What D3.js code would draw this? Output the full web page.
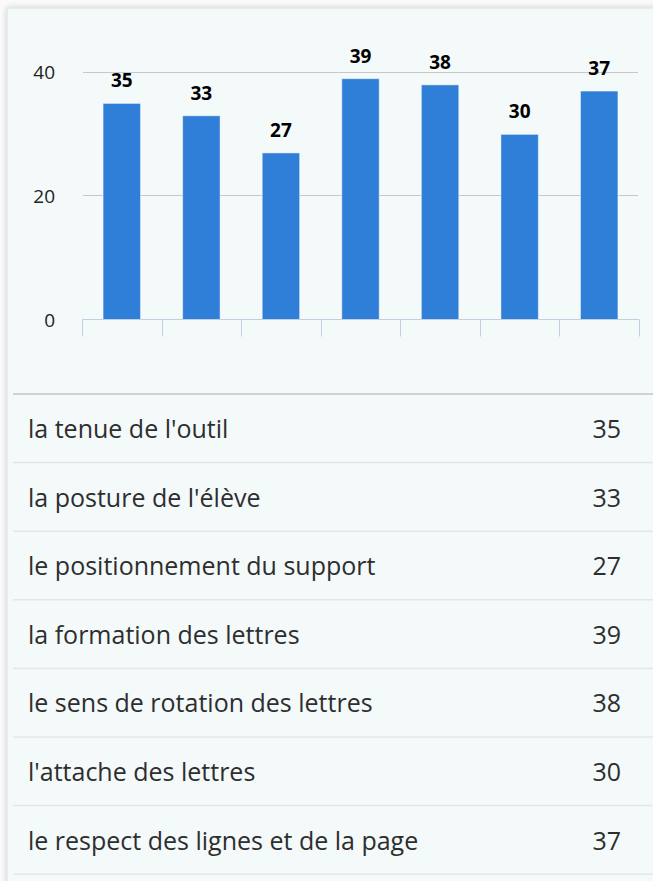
<!DOCTYPE html>
<html lang="fr">
<head>
    <meta charset="UTF-8">
    <title>Écriture - résultats</title>
    <script src="https://d3js.org/d3.v7.min.js"></script>
    <style>
        html, body {
            margin: 0;
            padding: 0;
            background: #fbfbfb;
        }
        #chart {
            position: absolute;
            left: 0;
            top: 0;
        }
    </style>
</head>
<body>
    <div id="chart"></div>

    <script>
    // values
    const categories = [
        "la tenue de l'outil",
        "la posture de l'élève",
        "le positionnement du support",
        "la formation des lettres",
        "le sens de rotation des lettres",
        "l'attache des lettres",
        "le respect des lignes et de la page"
    ];
    const values = [35, 33, 27, 39, 38, 30, 37];
    const yTicks = [0, 20, 40];

    const width = 653;
    const height = 881;

    const svg = d3.select("#chart")
        .append("svg")
        .attr("width", width)
        .attr("height", height);

    // soft shadow for the panel
    const defs = svg.append("defs");
    const shadow = defs.append("filter")
        .attr("id", "shadow")
        .attr("x", "-5%").attr("y", "-5%")
        .attr("width", "110%").attr("height", "110%");
    shadow.append("feDropShadow")
        .attr("dx", 0).attr("dy", 0)
        .attr("stdDeviation", 3)
        .attr("flood-color", "#000")
        .attr("flood-opacity", 0.18);

    svg.append("rect")
        .attr("x", 7)
        .attr("y", 8)
        .attr("width", 700)
        .attr("height", 920)
        .attr("fill", "#f4f9fa")
        .attr("stroke", "#dedede")
        .attr("filter", "url(#shadow)");

    // ---- bar chart ----
    const x = d3.scaleBand()
        .domain(categories)
        .range([82, 639])
        .paddingInner(0.53)
        .paddingOuter(0.265);

    const y = d3.scaleLinear()
        .domain([0, 40])
        .range([320, 72.5]);

    // grid lines
    svg.append("g")
        .selectAll("line")
        .data(yTicks.filter(d => d > 0))
        .join("line")
        .attr("x1", 83)
        .attr("x2", 638)
        .attr("y1", d => Math.round(y(d)) - 0.5)
        .attr("y2", d => Math.round(y(d)) - 0.5)
        .attr("stroke", "#c8c8c8")
        .attr("stroke-width", 1);

    // y axis labels
    const yAxis = d3.axisLeft(y)
        .tickValues(yTicks)
        .tickSize(0)
        .tickPadding(0)
        .tickFormat(d3.format("d"));

    const yG = svg.append("g")
        .attr("transform", "translate(55,0)")
        .call(yAxis);
    yG.select(".domain").remove();
    yG.selectAll("text")
        .attr("font-family", "'Open Sans', sans-serif")
        .attr("font-size", 19)
        .attr("fill", "#222");

    // bars
    svg.append("g")
        .selectAll("rect")
        .data(values)
        .join("rect")
        .attr("x", (d, i) => x(categories[i]))
        .attr("y", d => y(d))
        .attr("width", x.bandwidth())
        .attr("height", d => y(0) - y(d))
        .attr("fill", "#2f7ed8")
        .attr("stroke", "rgba(255,255,255,0.45)")
        .attr("stroke-width", 1);

    // x axis line with tick marks between categories
    const ticks = d3.range(categories.length + 1)
        .map(i => 82 + i * x.step());

    const xAxisG = svg.append("g");
    xAxisG.append("line")
        .attr("x1", 82)
        .attr("x2", 639)
        .attr("y1", 319.5)
        .attr("y2", 319.5)
        .attr("stroke", "#c0d0e0");
    xAxisG.selectAll("line.tick")
        .data(ticks)
        .join("line")
        .attr("class", "tick")
        .attr("x1", d => Math.round(d) + 0.5)
        .attr("x2", d => Math.round(d) + 0.5)
        .attr("y1", 319.5)
        .attr("y2", 336.5)
        .attr("stroke", "#c0d0e0");

    // data labels
    svg.append("g")
        .selectAll("text")
        .data(values)
        .join("text")
        .attr("x", (d, i) => x(categories[i]) + x.bandwidth() / 2)
        .attr("y", d => y(d) - 16)
        .attr("text-anchor", "middle")
        .attr("font-family", "'Open Sans', sans-serif")
        .attr("font-weight", "bold")
        .attr("font-size", 19)
        .attr("fill", "#000")
        .text(d => d);

    // ---- table below ----
    const rows = d3.scaleBand()
        .domain(categories)
        .range([394, 394 + 68.6 * categories.length]);

    svg.append("line")
        .attr("x1", 13)
        .attr("x2", width)
        .attr("y1", 394)
        .attr("y2", 394)
        .attr("stroke", "#d2d2d2")
        .attr("stroke-width", 2);

    const row = svg.append("g")
        .selectAll("g")
        .data(categories)
        .join("g")
        .attr("transform", d => `translate(0,${rows(d)})`);

    row.append("line")
        .attr("x1", 13)
        .attr("x2", width)
        .attr("y1", rows.bandwidth())
        .attr("y2", rows.bandwidth())
        .attr("stroke", "#e3e6ef")
        .attr("stroke-width", 1.5);

    row.append("text")
        .attr("x", 28)
        .attr("y", 44)
        .attr("font-family", "'Open Sans', sans-serif")
        .attr("font-size", 25)
        .attr("fill", "#2e2e2e")
        .text(d => d);

    row.append("text")
        .attr("x", 621)
        .attr("y", 44)
        .attr("text-anchor", "end")
        .attr("font-family", "'Open Sans', sans-serif")
        .attr("font-size", 25)
        .attr("fill", "#2e2e2e")
        .text((d, i) => values[i]);
    </script>
</body>
</html>
